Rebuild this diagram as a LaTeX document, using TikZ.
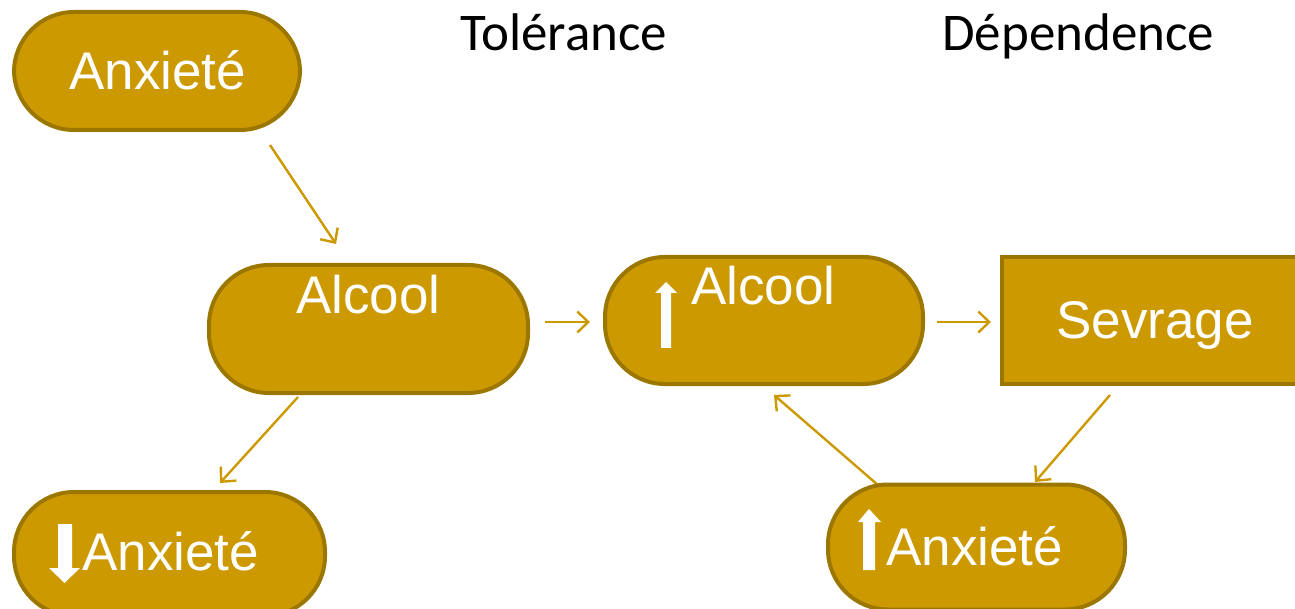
\documentclass[tikz,border=0pt]{standalone}
\usepackage{fontspec}
\setmainfont{Liberation Sans}
\newfontfamily\calibri{Carlito}
\usetikzlibrary{arrows.meta}
\definecolor{gold}{HTML}{CC9900}
\definecolor{darkgold}{HTML}{9C7700}
\definecolor{linegold}{HTML}{CC9900}
\begin{document}
\begin{tikzpicture}[x=1pt,y=-1pt,
  pill/.style={draw=darkgold, fill=gold, line width=4pt, rounded corners=60pt, inner sep=0pt},
  boxrect/.style={draw=darkgold, fill=gold, line width=4pt, inner sep=0pt},
  lbl/.style={text=white, anchor=base west, inner sep=0pt, font=\fontsize{53}{60}\selectfont},
  ttl/.style={text=black, anchor=base west, inner sep=0pt, font=\calibri\fontsize{53}{60}\selectfont},
  conn/.style={draw=linegold, line width=2.4pt, -{Straight Barb[length=11pt,width=21pt,line width=2.4pt]}},
  blockarrow/.style={fill=white}]
\clip (0,0) rectangle (1295,609);
\useasboundingbox (0,0) rectangle (1295,609);

% connectors (drawn first where boxes cover their ends)
\coordinate (c1s) at (270,145); \coordinate (c1e) at (336,244);
\coordinate (c2s) at (545,322); \coordinate (c2e) at (590,322);
\coordinate (c3s) at (937,322); \coordinate (c3e) at (991,322);
\coordinate (c4s) at (298,397); \coordinate (c4e) at (220,483);
\coordinate (c5s) at (1110,395); \coordinate (c5e) at (1035,482);
\coordinate (c6s) at (886,492); \coordinate (c6e) at (774,395);
\draw[conn] (c6s) -- (c6e);

% boxes
\node[pill, minimum width=286pt, minimum height=118pt] (anx1) at (157,71) {};
\node[pill, minimum width=319pt, minimum height=128pt] (alc1) at (368.5,329) {};
\node[pill, minimum width=318pt, minimum height=127pt] (alc2) at (764,320.5) {};
\node[boxrect, minimum width=296pt, minimum height=127pt] (sev) at (1150,320.5) {};
\node[pill, minimum width=311pt, minimum height=124pt] (anx2) at (169.5,554) {};
\node[pill, minimum width=297pt, minimum height=125pt] (anx3) at (976.5,547) {};

\draw[conn] (c1s) -- (c1e);
\draw[conn] (c2s) -- (c2e);
\draw[conn] (c3s) -- (c3e);
\draw[conn] (c4s) -- (c4e);
\draw[conn] (c5s) -- (c5e);

% labels
\node[lbl] (t1) at (69,90) {Anxieté};
\node[lbl] (t2) at (296,314) {Alcool};
\node[lbl] (t3) at (691,305) {Alcool};
\node[lbl] (t4) at (1056,339) {Sevrage};
\node[lbl] (t5) at (82,570) {Anxieté};
\node[lbl] (t6) at (886,565) {Anxieté};
\node[ttl] (h1) at (460,51) {Tolérance};
\node[ttl] (h2) at (942,51) {Dépendence};

% block arrows
\fill[blockarrow] (661,348) -- (661,293) -- (655,293) -- (666,282) -- (677,293) -- (671,293) -- (671,348) -- cycle;
\fill[blockarrow] (58,524) -- (58,568) -- (49,568) -- (64.5,583) -- (80,568) -- (72,568) -- (72,524) -- cycle;
\fill[blockarrow] (863,570) -- (863,522) -- (858,522) -- (869,509) -- (881,522) -- (875,522) -- (875,570) -- cycle;
\end{tikzpicture}
\end{document}
